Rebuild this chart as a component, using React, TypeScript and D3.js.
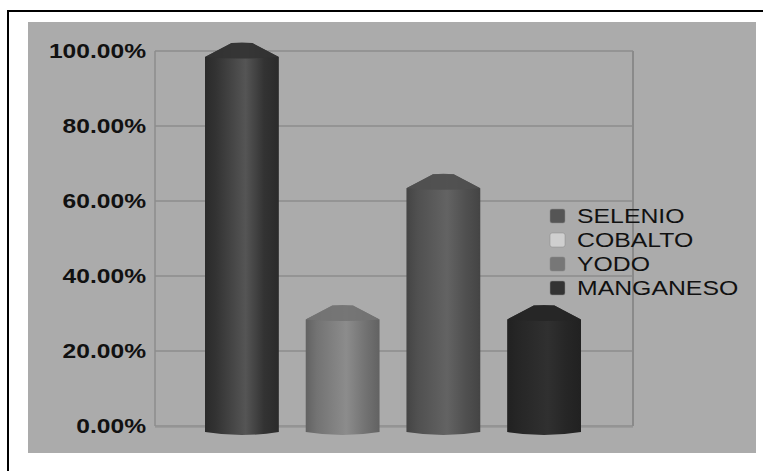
import React from "react";
import * as d3 from "d3";

const seriesNames = ["SELENIO", "COBALTO", "YODO", "MANGANESO"];
const seriesValues = [1.0, 0.3, 0.65, 0.3];
const tickValues = [0, 0.2, 0.4, 0.6, 0.8, 1.0];
const legendColors = ["#555555", "#cfcfcf", "#777777", "#333333"];
const barDark = ["#2a2a2a", "#626262", "#444444", "#212121"];
const barLight = ["#555555", "#8c8c8c", "#636363", "#303030"];
const barMid = ["#333333", "#737373", "#505050", "#262626"];

export default function App() {
  const W = 763, H = 471;
  const plot = { left: 155, right: 633, top: 51, bottom: 426 };
  const y = d3.scaleLinear().domain([0, 1]).range([plot.bottom, plot.top]);
  const x = d3
    .scaleBand<string>()
    .domain(seriesNames)
    .range([205, 581])
    .paddingInner(0.267)
    .paddingOuter(0);
  const bw = x.bandwidth();
  const fmt = d3.format(".2%");
  const depth = 6;
  const cone = 14;

  return (
    <svg width={W} height={H} style={{ position: "absolute", left: 0, top: 0 }}>
      <defs>
        {seriesNames.map((s, i) => (
          <linearGradient key={s} id={`g${i}`} x1="0" x2="1" y1="0" y2="0">
            <stop offset="0" stopColor={barDark[i]} />
            <stop offset="0.15" stopColor={barMid[i]} />
            <stop offset="0.55" stopColor={barLight[i]} />
            <stop offset="0.8" stopColor={barMid[i]} />
            <stop offset="1" stopColor={barDark[i]} />
          </linearGradient>
          ))}
      </defs>
      <rect x={0} y={0} width={W} height={H} fill="#ffffff" />
      <rect x={8} y={11} width={900} height={600} fill="none" stroke="#000" strokeWidth={2} />
      <rect x={28} y={22} width={728} height={431} fill="#ababab" />
      {tickValues.map((t) => (
        <line
          key={t}
          x1={plot.left}
          x2={plot.right}
          y1={y(t)}
          y2={y(t)}
          stroke="#8c8c8c"
          strokeWidth={1.5}
        />
      ))}
      <line x1={plot.left} x2={plot.left} y1={plot.top} y2={plot.bottom} stroke="#8c8c8c" strokeWidth={1.5} />
      <line x1={plot.right} x2={plot.right} y1={plot.top} y2={plot.bottom} stroke="#8a8a8a" strokeWidth={2} />
      <line x1={plot.left} x2={plot.right} y1={plot.bottom + 1.5} y2={plot.bottom + 1.5} stroke="#9c9c9c" strokeWidth={1} />
      {tickValues.map((t) => (
        <text
          key={t}
          transform={`translate(146,${y(t)}) scale(1.2,1)`}
          textAnchor="end"
          dominantBaseline="central"
          fontFamily="Liberation Sans, Arial, sans-serif"
          fontWeight="bold"
          fontSize={20.5}
          fill="#111"
        >
          {fmt(t)}
        </text>
      ))}
      {seriesNames.map((s, i) => {
        const x0 = x(s)!;
        const x1 = x0 + bw;
        const top = y(seriesValues[i]) + depth;
        const bot = y(0) + depth;
        const p = d3.path();
        p.moveTo(x0, top);
        p.lineTo(x0, bot);
        p.quadraticCurveTo((x0 + x1) / 2, bot + 6, x1, bot);
        p.lineTo(x1, top);
        p.lineTo(x0 + bw * 0.64, top - cone);
        p.lineTo(x0 + bw * 0.36, top - cone);
        p.closePath();
        const c = d3.path();
        c.moveTo(x0, top);
        c.lineTo(x0 + bw * 0.36, top - cone);
        c.quadraticCurveTo((x0 + x1) / 2, top - cone - 1, x0 + bw * 0.64, top - cone);
        c.lineTo(x1, top);
        c.quadraticCurveTo((x0 + x1) / 2, top + 3, x0, top);
        c.closePath();
        return (
          <g key={s}>
            <path d={p.toString()} fill={`url(#g${i})`} />
            <path d={c.toString()} fill={barMid[i]} opacity={0.9} />
          </g>
        );
      })}
      {seriesNames.map((s, i) => {
        const cy = 216 + i * 24;
        return (
          <g key={s}>
            <rect x={550} y={cy - 7} width={15} height={14} rx={2} fill={legendColors[i]} stroke="#888" strokeWidth={0.5} />
            <text
              transform={`translate(577,${cy}) scale(1.21,1)`}
              dominantBaseline="central"
              fontFamily="Liberation Sans, Arial, sans-serif"
              fontSize={20.5}
              fill="#111"
            >
              {s}
            </text>
          </g>
        );
      })}
    </svg>
  );
}
